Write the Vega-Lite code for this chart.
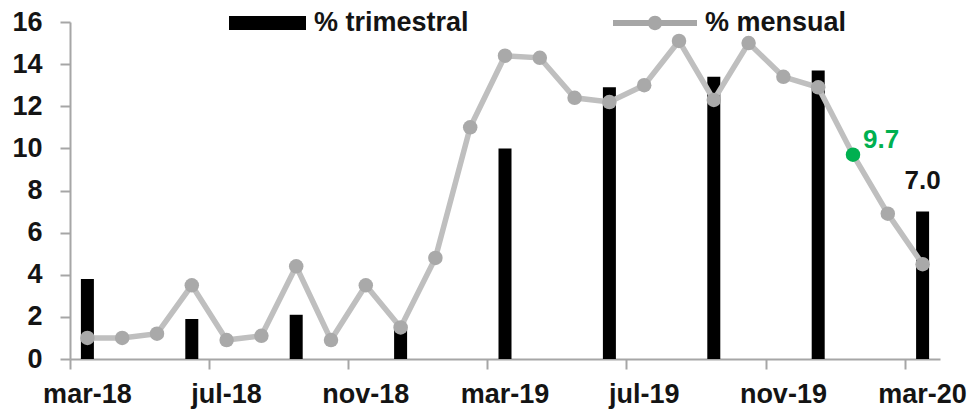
{
  "$schema": "https://vega.github.io/schema/vega-lite/v6.json",
  "width": 870,
  "height": 337,
  "autosize": {"type": "none"},
  "padding": {"left": 70, "top": 22, "right": 29, "bottom": 51},
  "background": "white",
  "config": {
    "view": {"stroke": null},
    "font": "Liberation Sans",
    "axis": {
      "domainColor": "#a6a6a6",
      "domainWidth": 2,
      "tickColor": "#a6a6a6",
      "tickWidth": 2,
      "tickSize": 10,
      "grid": false,
      "title": null,
      "labelFont": "Liberation Sans",
      "labelFontSize": 27,
      "labelFontWeight": "bold",
      "labelColor": "#141414"
    }
  },
  "data": {
    "values": [
      {"mes": "mar-18", "mensual": 1.0, "trimestral": 3.8},
      {"mes": "abr-18", "mensual": 1.0, "trimestral": null},
      {"mes": "may-18", "mensual": 1.2, "trimestral": null},
      {"mes": "jun-18", "mensual": 3.5, "trimestral": 1.9},
      {"mes": "jul-18", "mensual": 0.9, "trimestral": null},
      {"mes": "ago-18", "mensual": 1.1, "trimestral": null},
      {"mes": "sep-18", "mensual": 4.4, "trimestral": 2.1},
      {"mes": "oct-18", "mensual": 0.9, "trimestral": null},
      {"mes": "nov-18", "mensual": 3.5, "trimestral": null},
      {"mes": "dic-18", "mensual": 1.5, "trimestral": 1.6},
      {"mes": "ene-19", "mensual": 4.8, "trimestral": null},
      {"mes": "feb-19", "mensual": 11.0, "trimestral": null},
      {"mes": "mar-19", "mensual": 14.4, "trimestral": 10.0},
      {"mes": "abr-19", "mensual": 14.3, "trimestral": null},
      {"mes": "may-19", "mensual": 12.4, "trimestral": null},
      {"mes": "jun-19", "mensual": 12.2, "trimestral": 12.9},
      {"mes": "jul-19", "mensual": 13.0, "trimestral": null},
      {"mes": "ago-19", "mensual": 15.1, "trimestral": null},
      {"mes": "sep-19", "mensual": 12.3, "trimestral": 13.4},
      {"mes": "oct-19", "mensual": 15.0, "trimestral": null},
      {"mes": "nov-19", "mensual": 13.4, "trimestral": null},
      {"mes": "dic-19", "mensual": 12.9, "trimestral": 13.7},
      {"mes": "ene-20", "mensual": 9.7, "trimestral": null},
      {"mes": "feb-20", "mensual": 6.9, "trimestral": null},
      {"mes": "mar-20", "mensual": 4.5, "trimestral": 7.0}
    ]
  },
  "encoding": {
    "x": {
      "field": "mes",
      "type": "ordinal",
      "sort": null,
      "scale": {
        "type": "band",
        "paddingInner": 0,
        "paddingOuter": 0,
        "domain": ["mar-18", "abr-18", "may-18", "jun-18", "jul-18", "ago-18", "sep-18", "oct-18", "nov-18", "dic-18", "ene-19", "feb-19", "mar-19", "abr-19", "may-19", "jun-19", "jul-19", "ago-19", "sep-19", "oct-19", "nov-19", "dic-19", "ene-20", "feb-20", "mar-20"]
      },
      "axis": {
        "values": ["mar-18", "jul-18", "nov-18", "mar-19", "jul-19", "nov-19", "mar-20"],
        "bandPosition": 0,
        "labelAngle": 0,
        "labelPadding": 12,
        "labelAlign": "center"
      }
    }
  },
  "layer": [
    {
      "transform": [{"filter": "datum.trimestral != null"}],
      "mark": {"type": "bar", "size": 13},
      "encoding": {
        "y": {
          "field": "trimestral",
          "type": "quantitative",
          "scale": {"domain": [0, 16]},
          "axis": {"values": [0, 2, 4, 6, 8, 10, 12, 14, 16], "labelPadding": 18}
        },
        "color": {
          "datum": "% trimestral",
          "type": "nominal",
          "scale": {"domain": ["% trimestral", "% mensual"], "range": ["#000000", "#a6a6a6"]},
          "legend": {
            "orient": "none",
            "legendX": 152,
            "legendY": -41,
            "direction": "horizontal",
            "columns": 2,
            "title": null,
            "padding": 0,
            "symbolSize": 7056,
            "labelFont": "Liberation Sans",
            "labelFontSize": 27,
            "labelFontWeight": "bold",
            "labelColor": "#141414",
            "labelOffset": 8,
            "labelLimit": 400,
            "columnPadding": 144,
            "encode": {
              "symbols": {
                "update": {
                  "shape": {"signal": "datum.value === '% trimestral' ? 'M-0.833,-0.167H1V0.167H-0.833Z' : 'M-1,-0.07H1V0.07H-1Z M-0.17,0A0.17,0.17 0 1,1 0.17,0A0.17,0.17 0 1,1 -0.17,0Z'"},
                  "fill": {"signal": "datum.value === '% trimestral' ? '#000000' : '#b3b3b3'"},
                  "stroke": {"value": "transparent"},
                  "strokeWidth": {"value": 0},
                  "opacity": {"value": 1}
                }
              }
            }
          }
        }
      }
    },
    {
      "mark": {"type": "line", "color": "#bfbfbf", "strokeWidth": 5.5},
      "encoding": {
        "y": {"field": "mensual", "type": "quantitative"}
      }
    },
    {
      "transform": [{"filter": "datum.mes != 'ene-20'"}],
      "mark": {"type": "point", "filled": true, "color": "#a9a9a9", "size": 210, "opacity": 1},
      "encoding": {
        "y": {"field": "mensual", "type": "quantitative"}
      }
    },
    {
      "transform": [{"filter": "datum.mes == 'ene-20'"}],
      "mark": {"type": "point", "filled": true, "color": "#00b050", "size": 210, "opacity": 1},
      "encoding": {
        "y": {"field": "mensual", "type": "quantitative"}
      }
    },
    {
      "transform": [{"filter": "datum.mes == 'ene-20'"}],
      "mark": {"type": "text", "align": "left", "baseline": "alphabetic", "dx": 10, "dy": -7, "font": "Liberation Sans", "fontSize": 26, "fontWeight": "bold", "color": "#00b050"},
      "encoding": {
        "y": {"field": "mensual", "type": "quantitative"},
        "text": {"field": "mensual", "type": "quantitative", "format": ".1f"}
      }
    },
    {
      "transform": [{"filter": "datum.mes == 'mar-20'"}],
      "mark": {"type": "text", "align": "center", "baseline": "alphabetic", "dy": -23, "font": "Liberation Sans", "fontSize": 26, "fontWeight": "bold", "color": "#141414"},
      "encoding": {
        "y": {"field": "trimestral", "type": "quantitative"},
        "text": {"field": "trimestral", "type": "quantitative", "format": ".1f"}
      }
    }
  ]
}
